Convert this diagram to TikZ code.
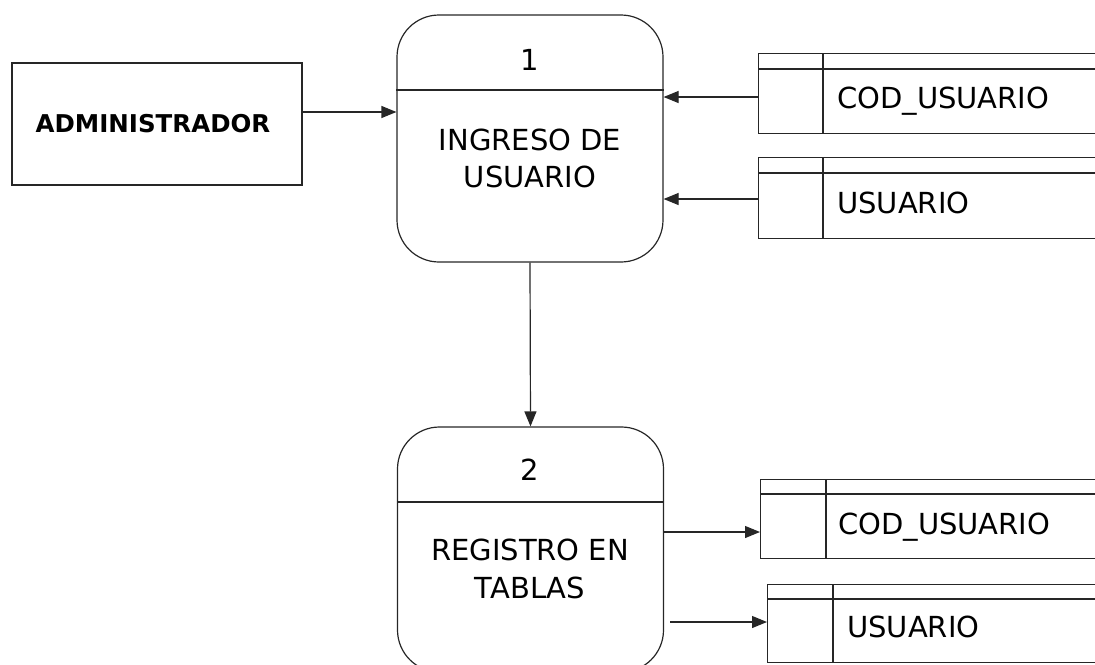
\documentclass[tikz,border=0pt]{standalone}
\usepackage{fontspec}
\setmainfont{DejaVu Sans}
\usetikzlibrary{arrows.meta}
\begin{document}
\begin{tikzpicture}[x=1pt,y=-1pt,
  ln/.style={line width=1.2pt, draw=black!85},
  arr/.style={ln, -{Triangle[length=15pt,width=12pt]}},
  proc/.style={ln, rounded corners=42pt, minimum width=266pt, minimum height=247pt, inner sep=0pt},
  store/.style={ln, minimum width=345pt, inner sep=0pt},
  big/.style={font=\fontsize{29}{36}\selectfont, inner sep=0pt, anchor=base},
  sttxt/.style={font=\fontsize{29}{36}\selectfont, inner sep=0pt, anchor=base west},
  ext/.style={ln, minimum width=290pt, minimum height=122pt, inner sep=0pt}]
\useasboundingbox (0,0) rectangle (1095,664);
\clip (0,0) rectangle (1095,664);
% external entity
\node[ext] (admin) at (157,124) {};
\node[font=\fontsize{24.5}{30}\selectfont\bfseries, inner sep=0pt, anchor=base] (admintxt) at (153,132) {ADMINISTRADOR};
% processes
\node[proc] (p1) at (530,138.5) {};
\draw[ln] (p1.west |- 0,90) coordinate (p1l) -- (p1.east |- 0,90) coordinate (p1r);
\node[big] (p1n) at (530,70) {1};
\node[big] (p1a) at (530,150) {INGRESO DE};
\node[big] (p1b) at (530,187) {USUARIO};
\node[proc, minimum height=245pt] (p2) at (530.5,549.5) {};
\draw[ln] (p2.west |- 0,502) coordinate (p2l) -- (p2.east |- 0,502) coordinate (p2r);
\node[big] (p2n) at (530,480) {2};
\node[big] (p2a) at (530,560) {REGISTRO EN};
\node[big] (p2b) at (530,598) {TABLAS};
% data stores
\node[store, minimum height=80pt, anchor=north west] (s1) at (758,53) {};
\draw[ln] (s1.west |- 0,69) -- (s1.east |- 0,69);
\draw[ln] (823,53) -- (823,133);
\node[sttxt] (s1t) at (837,108) {COD\_USUARIO};
\node[store, minimum height=81pt, anchor=north west] (s2) at (758,157) {};
\draw[ln] (s2.west |- 0,173) -- (s2.east |- 0,173);
\draw[ln] (823,157) -- (823,238);
\node[sttxt] (s2t) at (837,213) {USUARIO};
\node[store, minimum height=79pt, anchor=north west] (s3) at (760,479) {};
\draw[ln] (s3.west |- 0,494) -- (s3.east |- 0,494);
\draw[ln] (826,479) -- (826,558);
\node[sttxt] (s3t) at (838,534) {COD\_USUARIO};
\node[store, minimum height=78pt, anchor=north west] (s4) at (767,584) {};
\draw[ln] (s4.west |- 0,599) -- (s4.east |- 0,599);
\draw[ln] (833,584) -- (833,662);
\node[sttxt] (s4t) at (847,637) {USUARIO};
% connector levels
\coordinate (y1) at (0,112);
\coordinate (y2) at (0,97);
\coordinate (y3) at (0,199);
\coordinate (y4) at (0,532);
\coordinate (y5) at (0,622);
\coordinate (st5) at (670,622);
% connectors
\draw[arr] (admin.east |- y1) -- (p1.west |- y1);
\draw[arr] (s1.west |- y2) -- (p1.east |- y2);
\draw[arr] (s2.west |- y3) -- (p1.east |- y3);
\draw[arr] (p1.south) -- (p2.north);
\draw[arr] (p2.east |- y4) -- (s3.west |- y4);
\draw[arr] (st5) -- (s4.west |- y5);
\end{tikzpicture}
\end{document}
